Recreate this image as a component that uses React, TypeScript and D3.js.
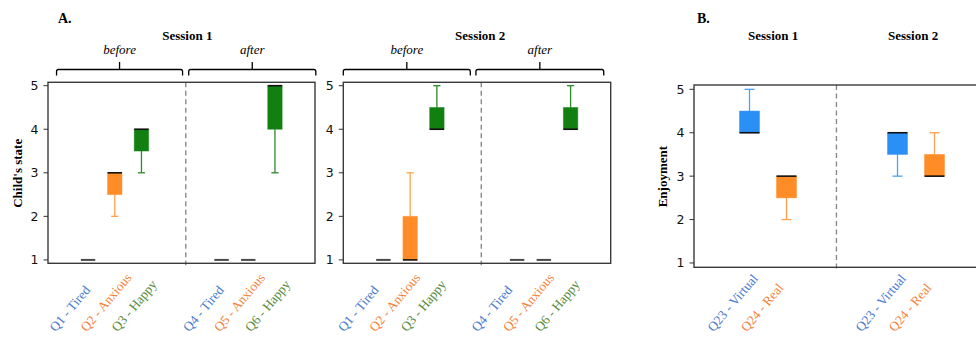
import React from "react";
import * as d3 from "d3";

// ---------- data ----------
// stats per box: [whiskerLow, q1, median, q3, whiskerHigh]
const questionsA = ["Q1 - Tired", "Q2 - Anxious", "Q3 - Happy", "Q4 - Tired", "Q5 - Anxious", "Q6 - Happy"];
const kindsA = ["tired", "anxious", "happy", "tired", "anxious", "happy"];
const positionsA = [0, 1, 2, 5, 6, 7];
const session1A = [
  [1, 1, 1, 1, 1],
  [2, 2.5, 3, 3, 3],
  [3, 3.5, 4, 4, 4],
  [1, 1, 1, 1, 1],
  [1, 1, 1, 1, 1],
  [3, 4, 5, 5, 5],
];
const session2A = [
  [1, 1, 1, 1, 1],
  [1, 1, 1, 2, 3],
  [4, 4, 4, 4.5, 5],
  [1, 1, 1, 1, 1],
  [1, 1, 1, 1, 1],
  [4, 4, 4, 4.5, 5],
];
const questionsB = ["Q23 - Virtual", "Q24 - Real", "Q23 - Virtual", "Q24 - Real"];
const kindsB = ["virtual", "real", "virtual", "real"];
const positionsB = [0, 1, 4, 5];
const statsB = [
  [4, 4, 4, 4.5, 5],
  [2, 2.5, 3, 3, 3],
  [3, 3.5, 4, 4, 4],
  [3, 3, 3, 3.5, 4],
];
const yTicks = [1, 2, 3, 4, 5];

// ---------- styles ----------
const boxFill: Record<string, string> = {
  tired: "#4169e1",
  anxious: "#ff8c26",
  happy: "#118011",
  virtual: "#2b90f5",
  real: "#ff8c26",
};
const whiskerColor: Record<string, string> = {
  tired: "#4169e1",
  anxious: "#ffa24f",
  happy: "#2a8a2a",
  virtual: "#4aa2f7",
  real: "#ffa24f",
};
const labelColor: Record<string, string> = {
  tired: "#4a7bd0",
  anxious: "#f5823c",
  happy: "#5a8c3e",
  virtual: "#4a7bd0",
  real: "#f5823c",
};

const SERIF = "'Liberation Serif', 'Times New Roman', serif";
const SANS = "'DejaVu Sans', sans-serif";

type Panel = {
  stats: number[][];
  positions: number[];
  kinds: string[];
  labels: string[];
  xRange: [number, number];
  xDomain: [number, number];
  yDomain: [number, number];
  yRange: [number, number];
  dashAt: number;
  boxW: number;
  labelOffset: number;
  labelStep: number;
  groupStarts: number[];
  brackets?: { from: number; to: number; text: string }[];
  sessions: { at: number; text: string }[];
  yLabel?: string;
  yLabelX?: number;
  letter?: string;
  letterX?: number;
};

const panels: Panel[] = [
  {
    stats: session1A,
    positions: positionsA,
    kinds: kindsA,
    labels: questionsA,
    xRange: [48, 315],
    xDomain: [-1.5, 8.5],
    yDomain: [0.922, 5.078],
    yRange: [263.3, 82.3],
    dashAt: 3.66,
    boxW: 0.54,
    labelOffset: -39,
    labelStep: 31,
    groupStarts: [0, 3],
    brackets: [
      { from: -1.18, to: 3.54, text: "before" },
      { from: 3.77, to: 8.53, text: "after" },
    ],
    sessions: [{ at: 3.72, text: "Session 1" }],
    yLabel: "Child's state",
    yLabelX: 22,
    letter: "A.",
    letterX: 58,
  },
  {
    stats: session2A,
    positions: positionsA,
    kinds: kindsA,
    labels: questionsA,
    xRange: [343.3, 610.7],
    xDomain: [-1.5, 8.5],
    yDomain: [0.922, 5.078],
    yRange: [263.3, 82.3],
    dashAt: 3.66,
    boxW: 0.54,
    labelOffset: -46,
    labelStep: 31.4,
    groupStarts: [0, 3],
    brackets: [
      { from: -1.5, to: 3.25, text: "before" },
      { from: 3.46, to: 8.24, text: "after" },
    ],
    sessions: [{ at: 3.62, text: "Session 2" }],
  },
  {
    stats: statsB,
    positions: positionsB,
    kinds: kindsB,
    labels: questionsB,
    xRange: [694, 990],
    xDomain: [-1.5, 6.5],
    yDomain: [0.9, 5.1],
    yRange: [267.3, 85],
    dashAt: 2.35,
    boxW: 0.54,
    labelOffset: -42.5,
    labelStep: 33.3,
    groupStarts: [0, 2],
    sessions: [
      { at: 0.64, text: "Session 1" },
      { at: 4.42, text: "Session 2" },
    ],
    yLabel: "Enjoyment",
    yLabelX: 667,
    letter: "B.",
    letterX: 697,
  },
];

function PanelView({ p }: { p: Panel }) {
  const x = d3.scaleLinear().domain(p.xDomain).range(p.xRange);
  const y = d3.scaleLinear().domain(p.yDomain).range(p.yRange);
  const [x0, x1] = p.xRange;
  const [yb, yt] = p.yRange;
  const unit = x(1) - x(0);
  const bw = p.boxW * unit;
  const capW = bw / 2;

  const groupOf = (i: number) => {
    let g = 0;
    p.groupStarts.forEach((s, k) => {
      if (i >= s) g = k;
    });
    return g;
  };

  return (
    <g>
      {p.letter && (
        <text x={p.letterX} y={23.3} fontFamily={SERIF} fontWeight="bold" fontSize={14}>
          {p.letter}
        </text>
      )}
      {p.sessions.map((s, i) => (
        <text key={"s" + i} x={x(s.at)} y={40} textAnchor="middle" fontFamily={SERIF} fontWeight="bold" fontSize={13}>
          {s.text}
        </text>
      ))}
      {p.brackets &&
        p.brackets.map((b, i) => {
          const bx0 = x(b.from);
          const bx1 = x(b.to);
          const mid = (bx0 + bx1) / 2;
          const by = 69.5;
          const path = `M${bx0},75.5 L${bx0},71.5 Q${bx0},${by} ${bx0 + 2},${by} L${bx1 - 2},${by} Q${bx1},${by} ${bx1},71.5 L${bx1},75.5 M${mid},${by} L${mid},62`;
          return (
            <g key={"b" + i}>
              <path d={path} fill="none" stroke="#000" strokeWidth={1.3} />
              <text x={mid} y={53.5} textAnchor="middle" fontFamily={SERIF} fontStyle="italic" fontSize={13}>
                {b.text}
              </text>
            </g>
          );
        })}
      {p.yLabel && (
        <text
          transform={`translate(${p.yLabelX},${(yb + yt) / 2 + 0.5}) rotate(-90)`}
          textAnchor="middle"
          fontFamily={SERIF}
          fontWeight="bold"
          fontSize={13}
        >
          {p.yLabel}
        </text>
      )}
      {/* dashed separator */}
      <line x1={x(p.dashAt)} x2={x(p.dashAt)} y1={yt} y2={yb + 2} stroke="#8a8a8a" strokeWidth={1.4} strokeDasharray="5,3.5" />
      {/* boxes */}
      {p.stats.map((s, i) => {
        const cx = x(p.positions[i]);
        const k = p.kinds[i];
        const [lo, q1, med, q3, hi] = s;
        const collapsed = q1 === q3;
        return (
          <g key={"box" + i}>
            {lo < q1 && (
              <g stroke={whiskerColor[k]} strokeWidth={1.3}>
                <line x1={cx} x2={cx} y1={y(lo)} y2={y(q1)} />
                <line x1={cx - capW / 2} x2={cx + capW / 2} y1={y(lo)} y2={y(lo)} />
              </g>
            )}
            {hi > q3 && (
              <g stroke={whiskerColor[k]} strokeWidth={1.3}>
                <line x1={cx} x2={cx} y1={y(hi)} y2={y(q3)} />
                <line x1={cx - capW / 2} x2={cx + capW / 2} y1={y(hi)} y2={y(hi)} />
              </g>
            )}
            {!collapsed && (
              <rect
                x={cx - bw / 2}
                y={y(q3)}
                width={bw}
                height={y(q1) - y(q3)}
                fill={boxFill[k]}
                stroke={boxFill[k]}
                strokeOpacity={0.45}
                strokeWidth={1}
              />
            )}
            <line
              x1={cx - bw / 2}
              x2={cx + bw / 2}
              y1={y(med)}
              y2={y(med)}
              stroke={collapsed ? "#4a4a4a" : "#111"}
              strokeWidth={collapsed ? 2 : 1.6}
            />
          </g>
        );
      })}
      {/* frame */}
      <rect x={x0} y={yt} width={x1 - x0} height={yb - yt} fill="none" stroke="#3a3a3a" strokeWidth={1.4} />
      {/* y ticks */}
      {yTicks.map((t) => (
        <g key={"t" + t}>
          <line x1={x0 - 4.5} x2={x0} y1={y(t)} y2={y(t)} stroke="#333" strokeWidth={1} />
          <text x={x0 - 9.5} y={y(t)} dy="0.36em" textAnchor="end" fontFamily={SANS} fontSize={12.5} fill="#111">
            {t}
          </text>
        </g>
      ))}
      {/* rotated category labels */}
      {p.labels.map((l, i) => {
        const g = groupOf(i);
        const start = p.groupStarts[g];
        const lx = x(p.positions[start]) + p.labelOffset + (i - start) * p.labelStep;
        return (
          <text
            key={"l" + i}
            transform={`translate(${lx + 6.5},${332.5}) rotate(-50)`}
            fontFamily={SERIF}
            fontSize={13.2}
            fill={labelColor[p.kinds[i]]}
          >
            {l}
          </text>
        );
      })}
    </g>
  );
}

export default function App() {
  return (
    <svg
      width={976}
      height={338}
      style={{ position: "absolute", left: 0, top: 0, background: "#fff" }}
    >
      <rect width={976} height={338} fill="#fff" />
      {panels.map((p, i) => (
        <PanelView key={i} p={p} />
      ))}
    </svg>
  );
}
